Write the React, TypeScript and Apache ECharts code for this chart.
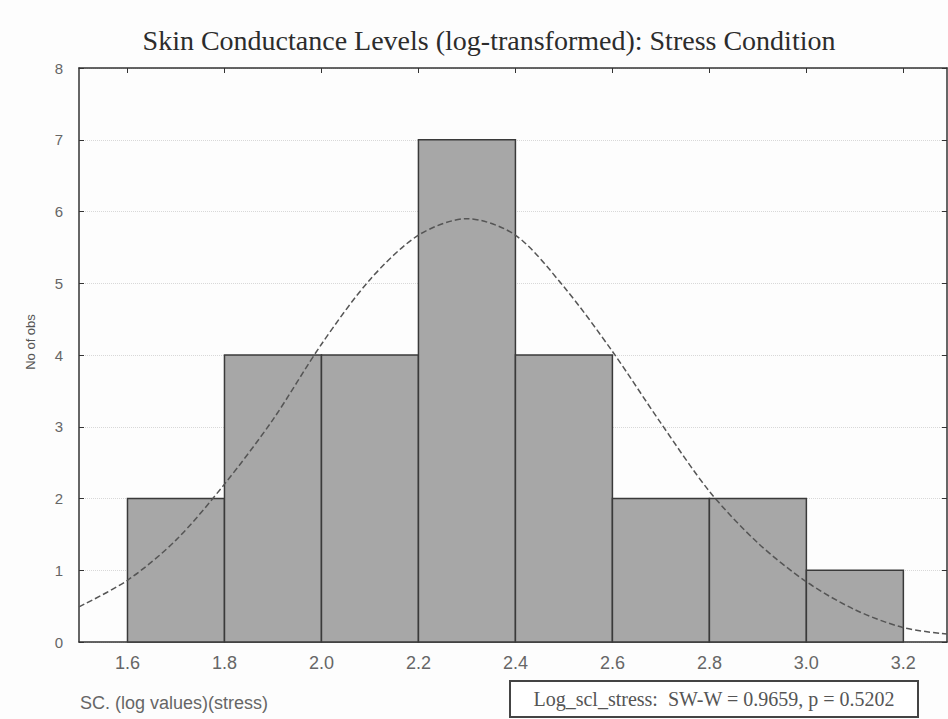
import React, { useEffect, useRef } from "react";
import * as echarts from "echarts";

const binStarts = [1.6, 1.8, 2.0, 2.2, 2.4, 2.6, 2.8, 3.0];
const binEnds = [1.8, 2.0, 2.2, 2.4, 2.6, 2.8, 3.0, 3.2];
const counts = [2, 4, 4, 7, 4, 2, 2, 1];

const curveX = [1.5, 1.6, 1.7, 1.8, 1.9, 2.0, 2.1, 2.2, 2.3, 2.4, 2.5, 2.6, 2.7, 2.8, 2.9, 3.0, 3.1, 3.2, 3.29];
const curveY = [0.49, 0.86, 1.42, 2.2, 3.1, 4.15, 5.05, 5.67, 5.9, 5.67, 4.95, 4.05, 3.05, 2.1, 1.38, 0.84, 0.45, 0.2, 0.11];

const xTicks = [1.6, 1.8, 2.0, 2.2, 2.4, 2.6, 2.8, 3.0, 3.2];
const xTickLabels = ["1.6", "1.8", "2.0", "2.2", "2.4", "2.6", "2.8", "3.0", "3.2"];

const titleText = "Skin Conductance Levels (log-transformed): Stress Condition";
const yName = "No of obs";
const xName = "SC. (log values)(stress)";
const statText = "Log_scl_stress:  SW-W = 0.9659, p = 0.5202";

export default function App() {
  const ref = useRef<HTMLDivElement>(null);
  useEffect(() => {
    document.body.style.margin = "0";
    if (!ref.current) return;
    const chart = echarts.init(ref.current, null, { renderer: "svg" });
    const barData = binStarts.map((s, i) => [s, binEnds[i], counts[i]]);
    const lineData = curveX.map((x, i) => [x, curveY[i]]);
    const axisColor = "#333";
    chart.setOption({
      animation: false,
      backgroundColor: "#fdfdfd",
      grid: { left: 79, right: 1, top: 68, bottom: 77 },
      xAxis: [
        {
          type: "value",
          min: 1.5,
          max: 3.29,
          position: "bottom",
          axisLine: { show: true, onZero: false, lineStyle: { color: axisColor, width: 1.5 } },
          axisTick: { show: true, inside: true, length: 5, customValues: xTicks, lineStyle: { color: axisColor } },
          axisLabel: {
            customValues: xTicks,
            formatter: (v: number) => xTickLabels[xTicks.findIndex((t) => Math.abs(t - v) < 1e-6)] ?? "",
            fontSize: 18,
            color: "#666",
            margin: 12,
            fontFamily: "Liberation Sans",
          },
          splitLine: { show: false },
        },
        {
          type: "value",
          min: 1.5,
          max: 3.29,
          position: "top",
          axisLine: { show: true, onZero: false, lineStyle: { color: axisColor, width: 1.5 } },
          axisTick: { show: true, inside: true, length: 5, customValues: xTicks, lineStyle: { color: axisColor } },
          axisLabel: { show: false },
          splitLine: { show: false },
        },
      ],
      yAxis: [
        {
          type: "value",
          min: 0,
          max: 8,
          interval: 1,
          position: "left",
          axisLine: { show: true, lineStyle: { color: axisColor, width: 1.5 } },
          axisTick: { show: true, inside: true, length: 5, lineStyle: { color: axisColor } },
          axisLabel: { fontSize: 15, color: "#666", margin: 16, fontFamily: "Liberation Sans" },
          splitLine: { show: true, lineStyle: { type: "dotted", color: "#d8d8d8" } },
        },
        {
          type: "value",
          min: 0,
          max: 8,
          interval: 1,
          position: "right",
          axisLine: { show: true, lineStyle: { color: axisColor, width: 1.5 } },
          axisTick: { show: true, inside: true, length: 5, lineStyle: { color: axisColor } },
          axisLabel: { show: false },
          splitLine: { show: false },
        },
      ],
      series: [
        {
          type: "custom",
          xAxisIndex: 0,
          yAxisIndex: 0,
          data: barData,
          encode: { x: [0, 1], y: 2 },
          renderItem: (params: any, api: any) => {
            const tl = api.coord([api.value(0), api.value(2)]);
            const br = api.coord([api.value(1), 0]);
            return {
              type: "rect",
              shape: { x: tl[0], y: tl[1], width: br[0] - tl[0], height: br[1] - tl[1] },
              style: { fill: "#a7a7a7", stroke: "#3a3a3a", lineWidth: 1.5 },
            };
          },
          z: 2,
        },
        {
          type: "line",
          xAxisIndex: 0,
          yAxisIndex: 0,
          data: lineData,
          smooth: 0.3,
          symbol: "none",
          lineStyle: { type: "dashed", color: "#555", width: 1.5 },
          z: 3,
        },
      ],
      graphic: [
        {
          type: "text",
          x: 489,
          y: 40,
          style: {
            text: titleText,
            font: 'normal 28px "Liberation Serif"',
            fill: "#2c2c2c",
            textAlign: "center",
            textVerticalAlign: "middle",
          },
        },
        {
          type: "text",
          x: 30,
          y: 342,
          rotation: Math.PI / 2,
          style: {
            text: yName,
            font: '13px "Liberation Sans"',
            fill: "#555",
            textAlign: "center",
            textVerticalAlign: "middle",
          },
        },
        {
          type: "text",
          x: 80,
          y: 703,
          style: {
            text: xName,
            font: '18px "Liberation Sans"',
            fill: "#666",
            textAlign: "left",
            textVerticalAlign: "middle",
          },
        },
        {
          type: "rect",
          shape: { x: 510, y: 681, width: 408, height: 36 },
          style: { fill: "#fff", stroke: "#444", lineWidth: 2 },
        },
        {
          type: "text",
          x: 714,
          y: 699,
          style: {
            text: statText,
            font: '20px "Liberation Serif"',
            fill: "#555",
            textAlign: "center",
            textVerticalAlign: "middle",
          },
        },
      ],
    });
    return () => chart.dispose();
  }, []);
  return <div ref={ref} style={{ width: 948, height: 719 }} />;
}
